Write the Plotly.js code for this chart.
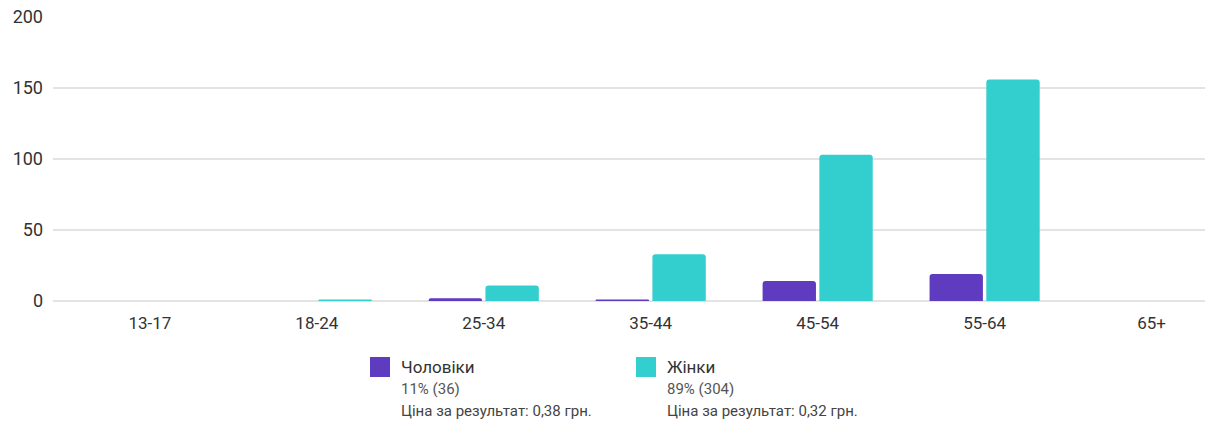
<!DOCTYPE html>
<html>
<head>
<meta charset="utf-8">
<script src="https://cdn.plot.ly/plotly-3.0.1.min.js"></script>
<style>html,body{margin:0;padding:0;background:#fff;}#chart{width:1212px;height:426px;}</style>
</head>
<body>
<div id="chart"></div>
<script>
const categories = ["13-17", "18-24", "25-34", "35-44", "45-54", "55-64", "65+"];
const menValues = [0, 0, 2, 1, 14, 19, 0];
const womenValues = [0, 1, 11, 33, 103, 156, 0];
const seriesNames = ["Чоловіки", "Жінки"];
const seriesShares = ["11% (36)", "89% (304)"];
const seriesCosts = ["Ціна за результат: 0,38 грн.", "Ціна за результат: 0,32 грн."];
const yTicks = [0, 50, 100, 150, 200];

const colors = ["#5e3bbf", "#33cece"];
const W = 1212, H = 426;
const L = 53, R = 7, T = 17, B = 125;
const pw = W - L - R, ph = H - T - B;
const px = x => (x - L) / pw;
const py = y => (H - B - y) / ph;

const traces = [menValues, womenValues].map((vals, i) => ({
  type: "bar",
  x: categories,
  y: vals,
  name: seriesNames[i],
  marker: {color: colors[i], cornerradius: 3},
  hoverinfo: "x+y",
  showlegend: false
}));

const legendX = [370, 636];
const shapes = [], annotations = [];
legendX.forEach((lx, i) => {
  shapes.push({type: "rect", xref: "paper", yref: "paper",
    x0: px(lx), x1: px(lx + 20), y0: py(377), y1: py(357),
    fillcolor: colors[i], line: {width: 0}});
  annotations.push({xref: "paper", yref: "paper", x: px(lx + 29), y: py(367),
    xanchor: "left", yanchor: "middle", showarrow: false,
    text: seriesNames[i], font: {family: "Roboto, sans-serif", size: 17, color: "#333"}});
  annotations.push({xref: "paper", yref: "paper", x: px(lx + 29), y: py(389),
    xanchor: "left", yanchor: "middle", showarrow: false,
    text: seriesShares[i], font: {family: "Roboto, sans-serif", size: 15, color: "#555"}});
  annotations.push({xref: "paper", yref: "paper", x: px(lx + 29), y: py(411),
    xanchor: "left", yanchor: "middle", showarrow: false,
    text: seriesCosts[i], font: {family: "Roboto, sans-serif", size: 15, color: "#444"}});
});

const layout = {
  width: W, height: H,
  margin: {l: L, r: R, t: T, b: B, pad: 0},
  paper_bgcolor: "#fff", plot_bgcolor: "#fff",
  font: {family: "Roboto, sans-serif", color: "#333"},
  barmode: "group",
  bargap: 0.32,
  bargroupgap: 0.06,
  xaxis: {
    type: "category",
    range: [-0.58, 6.32],
    showgrid: false, zeroline: false, showline: false,
    ticks: "", tickfont: {size: 17, color: "#333"},
    ticklabelstandoff: 10,
    fixedrange: true
  },
  yaxis: {
    range: [0, 200],
    tickvals: yTicks,
    ticktext: yTicks.map(String),
    showgrid: true, gridcolor: "#e3e3e3", gridwidth: 2,
    zeroline: true, zerolinecolor: "#e3e3e3", zerolinewidth: 2,
    showline: false, ticks: "", ticklen: 0,
    tickfont: {size: 18, color: "#333"},
    ticklabelstandoff: 9,
    automargin: false,
    fixedrange: true
  },
  shapes: shapes,
  annotations: annotations,
  showlegend: false
};

Plotly.newPlot("chart", traces, layout, {displayModeBar: false, staticPlot: true});
</script>
</body>
</html>
